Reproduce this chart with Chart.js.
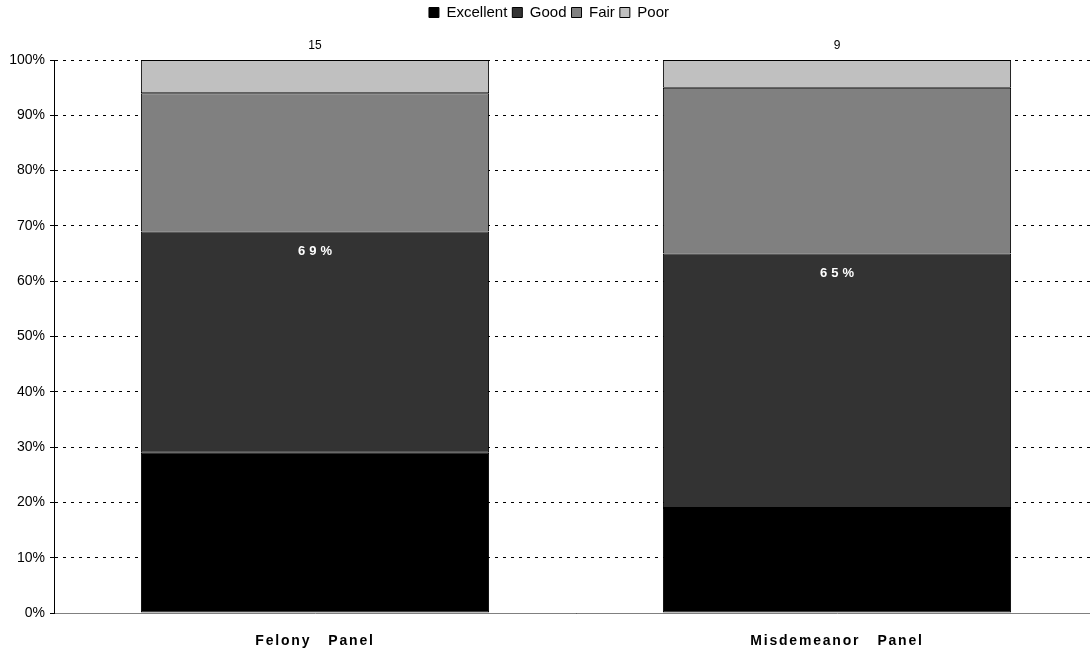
<!DOCTYPE html>
<html>
<head>
<meta charset="utf-8">
<title>Panel ratings</title>
<script src="https://cdn.jsdelivr.net/npm/chart.js@4.4.1/dist/chart.umd.min.js"></script>
<style>
    html, body { margin: 0; padding: 0; background: #fff; overflow: hidden; }
    #wrap { position: relative; width: 1100px; height: 651px; }
</style>
</head>
<body>
<div id="wrap"><canvas id="ratingsChart"></canvas></div>
<script>
// Panels and share of each rating (percent)
const panels = ['Felony   Panel', 'Misdemeanor   Panel'];
const respondents = ['15', '9'];
const excellent = [29, 19];
const good = [40, 46];
const fair = [25, 30];
const poor = [6, 5];

Chart.defaults.font.family = '"Liberation Sans", Arial, sans-serif';
Chart.defaults.color = '#000';

// Excellent + Good total written inside the Good segment
const goodTotalLabel = {
    id: 'goodTotalLabel',
    afterDatasetsDraw(chart) {
        const ctx = chart.ctx;
        const meta = chart.getDatasetMeta(1);
        ctx.save();
        ctx.font = 'bold 13px "Liberation Sans", Arial, sans-serif';
        ctx.fillStyle = '#fff';
        ctx.textAlign = 'center';
        ctx.textBaseline = 'middle';
        ctx.letterSpacing = '4px';
        meta.data.forEach((bar, i) => {
            const total = Math.round(excellent[i] + good[i]);
            ctx.fillText(total + '%', bar.x + 2, bar.y + 20);
        });
        ctx.restore();
    }
};

// Wider letter spacing for the panel names under the bars
const spacedPanelNames = {
    id: 'spacedPanelNames',
    afterLayout(chart) {
        const xs = chart.scales.x;
        if (xs._spaced) return;
        const drawLabels = xs.drawLabels.bind(xs);
        xs.drawLabels = function (area) {
            chart.ctx.save();
            chart.ctx.letterSpacing = '1.8px';
            drawLabels(area);
            chart.ctx.restore();
        };
        xs._spaced = true;
    }
};

const ctx = document.getElementById('ratingsChart').getContext('2d');
const ratingsChart = new Chart(ctx, {
    type: 'bar',
    data: {
        labels: panels,
        datasets: [
            { label: 'Excellent', data: excellent, backgroundColor: '#000000' },
            { label: 'Good', data: good, backgroundColor: '#333333' },
            { label: 'Fair', data: fair, backgroundColor: '#808080' },
            { label: 'Poor', data: poor, backgroundColor: '#c0c0c0' }
        ].map(ds => Object.assign(ds, {
            borderColor: '#000',
            borderWidth: 1,
            borderSkipped: false,
            barPercentage: 0.667,
            categoryPercentage: 1
        }))
    },
    options: {
        responsive: true,
        maintainAspectRatio: false,
        animation: false,
        layout: { padding: { top: 0, left: 0, right: 2, bottom: 0 } },
        plugins: {
            legend: {
                position: 'top',
                labels: {
                    boxWidth: 10,
                    boxHeight: 10,
                    padding: 5,
                    font: { size: 15 }
                }
            },
            tooltip: { enabled: false }
        },
        scales: {
            x: {
                stacked: true,
                offset: true,
                grid: { display: false, drawTicks: false },
                border: { color: '#808080' },
                ticks: { font: { size: 14, weight: 'bold' }, padding: 20 },
                afterFit(scale) { scale.height = 38; }
            },
            counts: {
                type: 'category',
                position: 'top',
                labels: respondents,
                offset: true,
                grid: { display: false, drawTicks: false },
                border: { display: false },
                ticks: { font: { size: 12 }, padding: 7 },
                afterFit(scale) { scale.height = 30; }
            },
            y: {
                stacked: true,
                min: 0,
                max: 100,
                ticks: {
                    stepSize: 10,
                    padding: 5,
                    font: { size: 14 },
                    callback: value => value + '%'
                },
                grid: { color: '#000', tickLength: 4, tickBorderDash: [] },
                border: { color: '#000', dash: [3, 5] },
                afterFit(scale) { scale.width = 54; }
            }
        }
    },
    plugins: [goodTotalLabel, spacedPanelNames]
});
</script>
</body>
</html>
